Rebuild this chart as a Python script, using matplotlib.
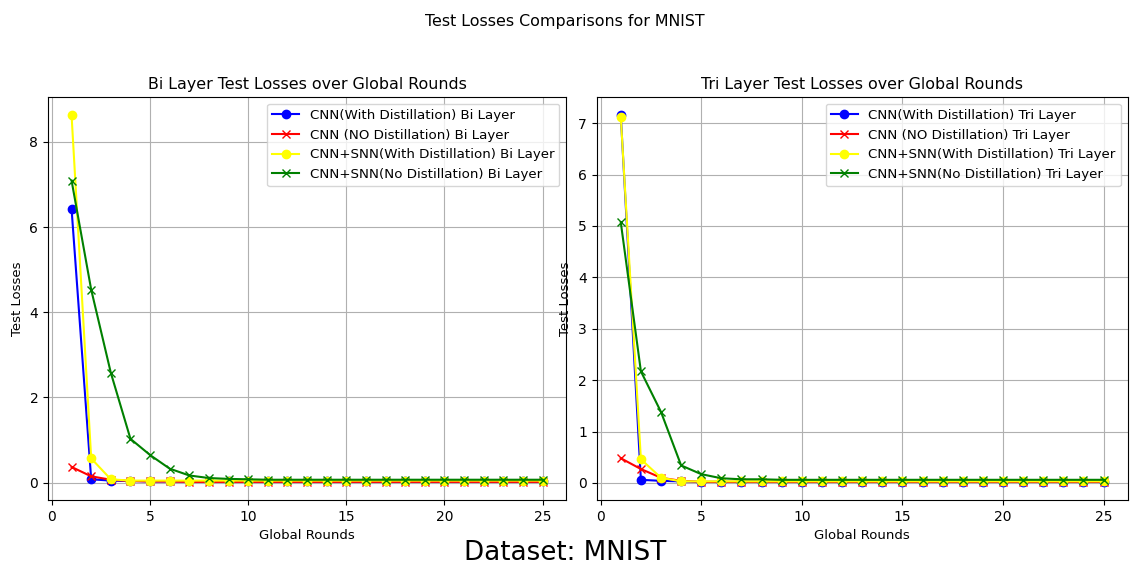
import numpy as np
import matplotlib
matplotlib.use("Agg")
import matplotlib.pyplot as plt

rounds = list(range(1, 26))

# Bi layer test losses
bi_cnn_distill = [6.42, 0.08, 0.05, 0.04, 0.03, 0.03, 0.03, 0.03, 0.03, 0.03,
                  0.03, 0.03, 0.03, 0.03, 0.03, 0.03, 0.03, 0.03, 0.03, 0.03,
                  0.03, 0.03, 0.03, 0.03, 0.03]
bi_cnn_nodistill = [0.37, 0.15, 0.07, 0.04, 0.03, 0.03, 0.02, 0.02, 0.02, 0.02,
                    0.02, 0.02, 0.02, 0.02, 0.02, 0.02, 0.02, 0.02, 0.02, 0.02,
                    0.02, 0.02, 0.02, 0.02, 0.02]
bi_snn_distill = [8.62, 0.57, 0.08, 0.05, 0.05, 0.05, 0.05, 0.05, 0.05, 0.05,
                  0.05, 0.05, 0.05, 0.05, 0.05, 0.05, 0.05, 0.05, 0.05, 0.05,
                  0.05, 0.05, 0.05, 0.05, 0.05]
bi_snn_nodistill = [7.09, 4.53, 2.58, 1.03, 0.65, 0.33, 0.17, 0.11, 0.09, 0.08,
                    0.07, 0.07, 0.07, 0.07, 0.07, 0.07, 0.07, 0.07, 0.07, 0.07,
                    0.07, 0.07, 0.07, 0.07, 0.07]

# Tri layer test losses
tri_cnn_distill = [7.15, 0.06, 0.04, 0.03, 0.02, 0.02, 0.02, 0.02, 0.02, 0.02,
                   0.02, 0.02, 0.02, 0.02, 0.02, 0.02, 0.02, 0.02, 0.02, 0.02,
                   0.02, 0.02, 0.02, 0.02, 0.02]
tri_cnn_nodistill = [0.48, 0.27, 0.1, 0.04, 0.02, 0.02, 0.02, 0.02, 0.02, 0.02,
                     0.02, 0.02, 0.02, 0.02, 0.02, 0.02, 0.02, 0.02, 0.02, 0.02,
                     0.02, 0.02, 0.02, 0.02, 0.02]
tri_snn_distill = [7.12, 0.46, 0.1, 0.03, 0.03, 0.03, 0.03, 0.03, 0.03, 0.03,
                   0.03, 0.03, 0.03, 0.03, 0.03, 0.03, 0.03, 0.03, 0.03, 0.03,
                   0.03, 0.03, 0.03, 0.03, 0.03]
tri_snn_nodistill = [5.07, 2.17, 1.38, 0.34, 0.17, 0.09, 0.07, 0.07, 0.06, 0.06,
                     0.06, 0.06, 0.06, 0.06, 0.06, 0.06, 0.06, 0.06, 0.06, 0.06,
                     0.06, 0.06, 0.06, 0.06, 0.06]

fig = plt.figure(figsize=(11.3, 5.71), dpi=100)
ax1 = fig.add_axes([0.0425, 0.124, 0.4585, 0.706])
ax2 = fig.add_axes([0.528, 0.124, 0.47, 0.706])


def draw(ax, layer, series):
    labels = ["CNN(With Distillation) %s Layer" % layer,
              "CNN (NO Distillation) %s Layer" % layer,
              "CNN+SNN(With Distillation) %s Layer" % layer,
              "CNN+SNN(No Distillation) %s Layer" % layer]
    styles = [("blue", "o"), ("red", "x"), ("yellow", "o"), ("green", "x")]
    for vals, lab, (c, m) in zip(series, labels, styles):
        ax.plot(rounds, vals, color=c, marker=m, label=lab)
    ax.set_title("%s Layer Test Losses over Global Rounds" % layer, fontsize=11.4)
    ax.set_xlabel("Global Rounds", fontsize=9.5)
    ax.set_ylabel("Test Losses", fontsize=9.5)
    ax.tick_params(labelsize=10)
    ax.grid(True)
    ax.legend(fontsize=9.6)


draw(ax1, "Bi", [bi_cnn_distill, bi_cnn_nodistill, bi_snn_distill, bi_snn_nodistill])
draw(ax2, "Tri", [tri_cnn_distill, tri_cnn_nodistill, tri_snn_distill, tri_snn_nodistill])

fig.suptitle("Test Losses Comparisons for MNIST", fontsize=11.4, y=0.975)
fig.text(0.5, 0.02, "Dataset: MNIST", ha="center", fontsize=18.8)

fig.savefig("out.png", dpi=100)
